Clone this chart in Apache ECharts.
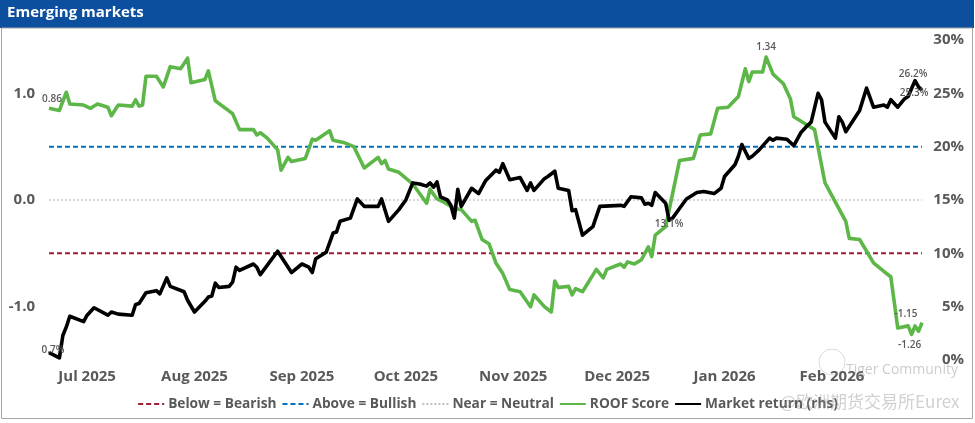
<!DOCTYPE html>
<html>
<head>
<meta charset="utf-8">
<script src="https://cdn.jsdelivr.net/npm/echarts@6/dist/echarts.min.js"></script>
<style>
html,body{margin:0;padding:0;background:#fff;}
#chart{width:975px;height:423px;}
</style>
</head>
<body>
<div id="chart"></div>
<script>
// ---- DATA ----
const chartTitle = 'Emerging markets';
const axisStart = '2025-06-20';
const axisEnd = '2026-02-27';
const bearishLevel = -0.5;
const bullishLevel = 0.5;
const neutralLevel = 0;
const monthNames = ['Jan','Feb','Mar','Apr','May','Jun','Jul','Aug','Sep','Oct','Nov','Dec'];

// ROOF Score (left axis)
const roofScore = [
 ['2025-06-20',0.86],['2025-06-23',0.84],['2025-06-25',1.01],['2025-06-26',0.90],['2025-06-30',0.89],
 ['2025-07-02',0.86],['2025-07-04',0.90],['2025-07-07',0.87],['2025-07-08',0.79],['2025-07-10',0.89],
 ['2025-07-14',0.88],['2025-07-15',0.94],['2025-07-16',0.88],['2025-07-17',0.89],['2025-07-18',1.16],
 ['2025-07-21',1.16],['2025-07-23',1.06],['2025-07-25',1.25],['2025-07-28',1.23],['2025-07-30',1.33],
 ['2025-07-31',1.10],['2025-08-04',1.13],['2025-08-05',1.21],['2025-08-07',0.93],['2025-08-12',0.81],
 ['2025-08-14',0.66],['2025-08-18',0.66],['2025-08-19',0.61],['2025-08-20',0.63],['2025-08-22',0.58],
 ['2025-08-25',0.47],['2025-08-26',0.28],['2025-08-28',0.40],['2025-08-29',0.36],['2025-09-02',0.39],
 ['2025-09-04',0.57],['2025-09-05',0.56],['2025-09-09',0.65],['2025-09-10',0.56],['2025-09-13',0.54],
 ['2025-09-16',0.50],['2025-09-19',0.30],['2025-09-23',0.40],['2025-09-24',0.34],['2025-09-25',0.37],
 ['2025-09-26',0.29],['2025-09-29',0.26],['2025-10-03',0.15],['2025-10-07',-0.03],['2025-10-08',0.10],
 ['2025-10-10',0.01],['2025-10-12',-0.02],['2025-10-15',-0.08],['2025-10-17',-0.09],['2025-10-20',-0.20],
 ['2025-10-21',-0.19],['2025-10-23',-0.37],['2025-10-25',-0.41],['2025-10-27',-0.59],['2025-10-29',-0.69],
 ['2025-10-31',-0.84],['2025-11-03',-0.86],['2025-11-06',-1.00],['2025-11-07',-0.89],['2025-11-10',-1.00],
 ['2025-11-12',-1.05],['2025-11-13',-0.76],['2025-11-14',-0.82],['2025-11-17',-0.81],['2025-11-18',-0.89],
 ['2025-11-19',-0.83],['2025-11-21',-0.86],['2025-11-25',-0.65],['2025-11-27',-0.73],['2025-11-28',-0.65],
 ['2025-12-02',-0.60],['2025-12-03',-0.63],['2025-12-04',-0.58],['2025-12-06',-0.60],['2025-12-08',-0.56],
 ['2025-12-10',-0.44],['2025-12-11',-0.53],['2025-12-12',-0.33],['2025-12-15',-0.25],['2025-12-19',0.37],
 ['2025-12-23',0.39],['2025-12-25',0.61],['2025-12-28',0.62],['2025-12-30',0.86],['2026-01-02',0.87],
 ['2026-01-05',0.97],['2026-01-07',1.23],['2026-01-08',1.11],['2026-01-09',1.20],['2026-01-12',1.20],
 ['2026-01-13',1.34],['2026-01-15',1.18],['2026-01-18',1.09],['2026-01-20',0.95],['2026-01-21',0.78],
 ['2026-01-24',0.72],['2026-01-27',0.66],['2026-01-30',0.16],['2026-02-05',-0.20],['2026-02-06',-0.36],
 ['2026-02-09',-0.37],['2026-02-13',-0.59],['2026-02-16',-0.67],['2026-02-18',-0.72],['2026-02-20',-1.20],
 ['2026-02-23',-1.18],['2026-02-24',-1.26],['2026-02-25',-1.18],['2026-02-26',-1.23],['2026-02-27',-1.15]
];

// Market return, % (right axis)
const marketReturn = [
 ['2025-06-20',0.7],['2025-06-23',0.2],['2025-06-24',2.3],['2025-06-25',3.1],['2025-06-26',4.1],
 ['2025-06-30',3.6],['2025-07-01',4.2],['2025-07-03',4.9],['2025-07-07',4.2],['2025-07-08',4.5],
 ['2025-07-10',4.3],['2025-07-14',4.2],['2025-07-15',5.2],['2025-07-16',5.3],['2025-07-18',6.3],
 ['2025-07-21',6.5],['2025-07-22',6.2],['2025-07-24',7.7],['2025-07-25',6.9],['2025-07-29',6.4],
 ['2025-07-30',5.6],['2025-08-01',4.5],['2025-08-04',5.5],['2025-08-05',5.9],['2025-08-06',6.0],
 ['2025-08-07',7.2],['2025-08-08',6.8],['2025-08-11',6.9],['2025-08-12',7.3],['2025-08-13',8.7],
 ['2025-08-14',8.4],['2025-08-18',9.0],['2025-08-19',8.7],['2025-08-20',8.0],['2025-08-25',10.2],
 ['2025-08-29',8.2],['2025-09-01',9.0],['2025-09-03',8.7],['2025-09-04',8.2],['2025-09-05',9.5],
 ['2025-09-08',10.1],['2025-09-10',11.9],['2025-09-11',12.0],['2025-09-12',13.0],['2025-09-15',13.3],
 ['2025-09-17',15.1],['2025-09-19',14.4],['2025-09-23',14.4],['2025-09-24',15.1],['2025-09-26',13.0],
 ['2025-09-29',14.1],['2025-10-01',15.0],['2025-10-03',16.6],['2025-10-05',16.5],['2025-10-07',16.3],
 ['2025-10-08',16.6],['2025-10-09',16.2],['2025-10-10',16.7],['2025-10-11',15.3],['2025-10-13',15.0],
 ['2025-10-14',14.5],['2025-10-15',13.3],['2025-10-16',16.0],['2025-10-17',14.4],['2025-10-20',16.1],
 ['2025-10-22',15.6],['2025-10-24',16.8],['2025-10-27',17.8],['2025-10-28',17.6],['2025-10-29',18.4],
 ['2025-10-31',16.9],['2025-11-03',17.1],['2025-11-05',15.9],['2025-11-06',16.6],['2025-11-07',15.9],
 ['2025-11-10',17.0],['2025-11-11',17.2],['2025-11-13',17.7],['2025-11-14',16.1],['2025-11-17',15.9],
 ['2025-11-18',14.0],['2025-11-19',14.1],['2025-11-21',11.7],['2025-11-24',12.5],['2025-11-26',14.4],
 ['2025-12-02',14.5],['2025-12-03',14.4],['2025-12-05',15.3],['2025-12-08',15.2],['2025-12-09',14.6],
 ['2025-12-10',14.7],['2025-12-11',14.5],['2025-12-12',15.7],['2025-12-15',14.7],['2025-12-16',13.1],
 ['2025-12-17',13.3],['2025-12-19',14.2],['2025-12-21',15.1],['2025-12-24',15.7],['2025-12-26',15.8],
 ['2025-12-29',15.6],['2025-12-31',16.1],['2026-01-01',17.2],['2026-01-04',18.3],['2026-01-05',19.1],
 ['2026-01-06',20.2],['2026-01-08',18.9],['2026-01-09',19.1],['2026-01-11',19.7],['2026-01-14',20.8],
 ['2026-01-15',20.6],['2026-01-16',20.8],['2026-01-19',20.7],['2026-01-21',20.1],['2026-01-23',21.3],
 ['2026-01-25',22.0],['2026-01-26',22.3],['2026-01-28',25.0],['2026-01-29',24.4],['2026-01-30',22.3],
 ['2026-02-02',20.8],['2026-02-03',22.8],['2026-02-04',22.3],['2026-02-05',21.4],['2026-02-09',23.4],
 ['2026-02-11',25.5],['2026-02-13',23.7],['2026-02-16',23.9],['2026-02-17',23.7],['2026-02-18',24.4],
 ['2026-02-20',23.7],['2026-02-22',24.5],['2026-02-23',24.7],['2026-02-25',26.2],['2026-02-26',25.6],
 ['2026-02-27',25.3]
];

// annotated points (dates)
const roofLabelDates = ['2025-06-20','2026-01-13','2026-02-24','2026-02-27'];
const marketLabelDates = ['2025-06-20','2025-12-16','2026-02-25','2026-02-27'];

// ---- CHART ----
const FONT = '"Open Sans", "Noto Sans", sans-serif';
const GREY = '#595959';
const chart = echarts.init(document.getElementById('chart'), null, {renderer: 'canvas'});

function lookup(arr, d){ return arr.find(p => p[0] === d); }

const labelBase = {fontFamily: FONT, fontSize: 10, fontWeight: 600, color: GREY};
const roofLabelPos = [
  {position: 'top', distance: 4, offset: [3, 0]},
  {position: 'top', distance: 4, offset: [0, 0]},
  {position: 'bottom', distance: 5, offset: [-2, 0]},
  {position: 'top', distance: 3, offset: [-16, 0]}
];
const marketLabelPos = [
  {position: 'top', distance: -3, offset: [4, 0]},
  {position: 'bottom', distance: -2, offset: [0, 0]},
  {position: 'top', distance: 1, offset: [-2, 0]},
  {position: 'bottom', distance: -2, offset: [-8, 0]}
];

const roofMarks = roofLabelDates.map((d, i) => {
  const p = lookup(roofScore, d);
  return {coord: [p[0], p[1]], label: Object.assign({show: true, formatter: p[1].toFixed(2)}, labelBase, roofLabelPos[i])};
});
const marketMarks = marketLabelDates.map((d, i) => {
  const p = lookup(marketReturn, d);
  return {coord: [p[0], p[1]], label: Object.assign({show: true, formatter: p[1].toFixed(1) + '%'}, labelBase, marketLabelPos[i])};
});

function levelLine(v){ return [[axisStart, v], [axisEnd, v]]; }

const option = {
  animation: false,
  backgroundColor: '#ffffff',
  grid: {left: 49, right: 53, top: 40, bottom: 63, containLabel: false},
  xAxis: {
    type: 'time',
    min: axisStart,
    max: axisEnd,
    splitNumber: 8,
    minInterval: 28 * 86400000,
    maxInterval: 31 * 86400000,
    axisLine: {show: false},
    axisTick: {show: false},
    splitLine: {show: false},
    axisLabel: {
      margin: 9,
      fontFamily: FONT, fontSize: 15, fontWeight: 'bold', color: GREY,
      hideOverlap: false,
      formatter: function(val){
        const d = new Date(val);
        if (d.getDate() !== 1) return '';
        return monthNames[d.getMonth()] + ' ' + d.getFullYear();
      }
    }
  },
  yAxis: [
    {
      type: 'value', min: -1.5, max: 1.5, interval: 0.5,
      axisLine: {show: false}, axisTick: {show: false}, splitLine: {show: false},
      axisLabel: {
        margin: 14, fontFamily: FONT, fontSize: 15, fontWeight: 'bold', color: GREY,
        formatter: function(v){ return Math.abs(v - Math.round(v)) < 1e-9 ? (Math.round(v) === 0 ? '0.0' : v.toFixed(1)) : ''; }
      }
    },
    {
      type: 'value', min: 0, max: 30, interval: 5, position: 'right',
      axisLine: {show: false}, axisTick: {show: false}, splitLine: {show: false},
      axisLabel: {
        margin: 42, align: 'right', fontFamily: FONT, fontSize: 15, fontWeight: 'bold', color: GREY,
        formatter: '{value}%'
      }
    }
  ],
  legend: {
    bottom: 7,
    left: 'center',
    itemWidth: 26,
    itemHeight: 10,
    itemGap: 5,
    itemStyle: {opacity: 0},
    textStyle: {fontFamily: FONT, fontSize: 13.7, fontWeight: 'bold', color: GREY, padding: [0, 0, 0, -1]},
    data: ['Below = Bearish', 'Above = Bullish', 'Near = Neutral', 'ROOF Score', 'Market return (rhs)']
  },
  series: [
    {
      name: 'Below = Bearish', type: 'line', yAxisIndex: 0, data: levelLine(bearishLevel),
      symbol: 'none', silent: true,
      lineStyle: {color: '#9E1B32', width: 2, type: [5, 3]}, itemStyle: {color: '#9E1B32'}
    },
    {
      name: 'Above = Bullish', type: 'line', yAxisIndex: 0, data: levelLine(bullishLevel),
      symbol: 'none', silent: true,
      lineStyle: {color: '#0070C0', width: 2, type: [5, 3]}, itemStyle: {color: '#0070C0'}
    },
    {
      name: 'Near = Neutral', type: 'line', yAxisIndex: 0, data: levelLine(neutralLevel),
      symbol: 'none', silent: true,
      lineStyle: {color: '#BFBFBF', width: 1.2, type: [2, 2]}, itemStyle: {color: '#BFBFBF'}
    },
    {
      name: 'ROOF Score', type: 'line', yAxisIndex: 0, data: roofScore,
      symbol: 'none',
      lineStyle: {color: '#5DB748', width: 3.6, join: 'round'}, itemStyle: {color: '#5DB748'},
      markPoint: {symbol: 'circle', symbolSize: 1, itemStyle: {color: 'rgba(0,0,0,0)'}, data: roofMarks, silent: true}
    },
    {
      name: 'Market return (rhs)', type: 'line', yAxisIndex: 1, data: marketReturn,
      symbol: 'none',
      lineStyle: {color: '#000000', width: 3.6, join: 'round'}, itemStyle: {color: '#000000'},
      markPoint: {symbol: 'circle', symbolSize: 1, itemStyle: {color: 'rgba(0,0,0,0)'}, data: marketMarks, silent: true}
    }
  ],
  graphic: [
    {type: 'rect', left: 0, top: 0, shape: {width: 974, height: 28}, style: {fill: '#0B4F9E'}, z: 10},
    {type: 'text', left: 7, top: 5, style: {text: chartTitle, fill: '#ffffff', font: 'bold 15px ' + FONT}, z: 11},
    {type: 'rect', shape: {x: 1.5, y: 28, width: 971, height: 390.5}, style: {fill: 'none', stroke: '#A6A6A6', lineWidth: 1}, z: 10},
    {type: 'circle', shape: {cx: 832, cy: 362, r: 13}, style: {fill: 'none', stroke: 'rgba(150,150,150,0.35)', lineWidth: 1}, z: 12, silent: true},
    {type: 'text', left: 846, top: 363, style: {text: 'Tiger Community', fill: 'rgba(140,140,140,0.45)', font: '14px ' + FONT}, z: 12, silent: true},
    {type: 'text', left: 780, top: 393, style: {text: '@欧洲期货交易所Eurex', fill: 'rgba(150,150,150,0.45)', font: '17px "Noto Sans CJK SC", sans-serif'}, z: 12, silent: true}
  ]
};
chart.setOption(option);
</script>
</body>
</html>
